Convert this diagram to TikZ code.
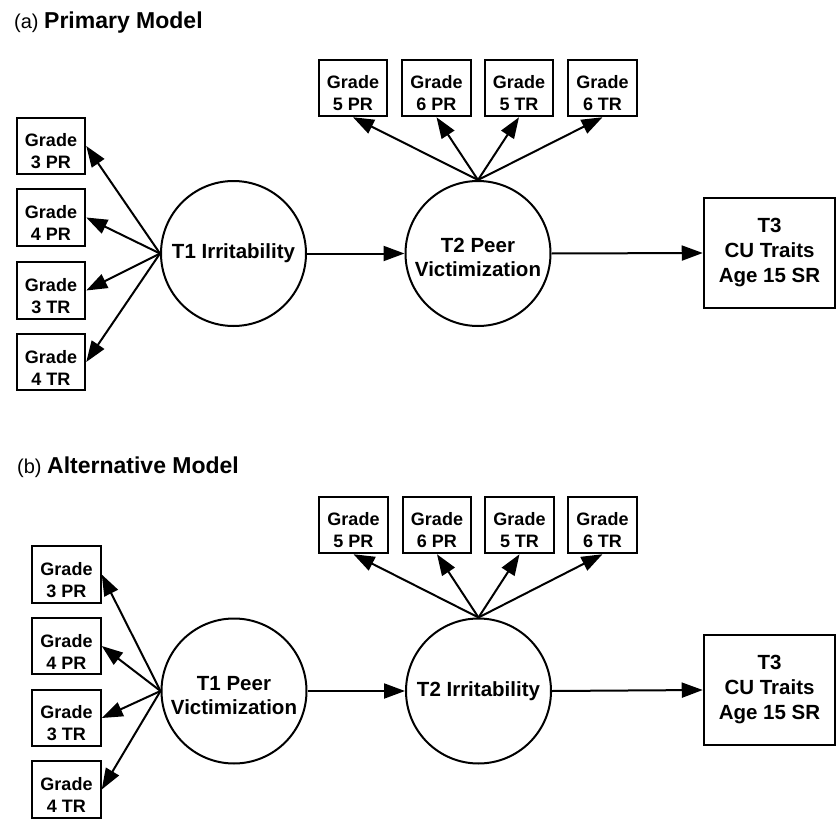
\documentclass[tikz,border=0pt]{standalone}
\usepackage{fontspec}
\setmainfont{Liberation Sans}
\usetikzlibrary{arrows.meta}
\newcommand\grbox[1]{\rule{0pt}{24pt}Grade\\#1}
\newcommand\uplift{\rule{0pt}{23pt}}
\begin{document}
\begin{tikzpicture}[x=1pt,y=-1pt,
  ind/.style={draw, line width=2pt, minimum width=68.5pt, minimum height=56.5pt, inner sep=0pt, align=center, font=\fontsize{18}{22}\selectfont\bfseries},
  lat/.style={draw, circle, line width=2pt, minimum size=145pt, inner sep=0pt, align=center, font=\fontsize{20.5}{24}\selectfont\bfseries},
  outc/.style={draw, line width=2pt, minimum width=131.5pt, minimum height=110.5pt, inner sep=0pt, align=center, font=\fontsize{20.5}{25}\selectfont\bfseries},
  arr/.style={line width=2pt, -{Triangle[length=21pt,width=15pt]}},
  ttl/.style={anchor=base west, inner sep=0pt}
]
\useasboundingbox (0,0) rectangle (839,819);

% ---------- Panel (a) ----------
\node[ttl] (ta) at (14,28) {\fontsize{20}{24}\selectfont(a) \fontsize{23}{27}\selectfont\bfseries Primary Model};

\node[ind] (a3pr) at (51,146)   {\grbox{3 PR}};
\node[ind] (a4pr) at (51,217.5) {\grbox{4 PR}};
\node[ind] (a3tr) at (51,290.5) {\grbox{3 TR}};
\node[ind] (a4tr) at (51,362)   {\grbox{4 TR}};

\node[ind] (a5pr) at (353,88)   {\grbox{5 PR}};
\node[ind] (a6pr) at (436.5,88) {\grbox{6 PR}};
\node[ind] (a5tr) at (519,88)   {\grbox{5 TR}};
\node[ind] (a6tr) at (602.5,88) {\grbox{6 TR}};

\node[lat] (aT1) at (233.5,253.5) {T1 Irritability};
\node[lat] (aT2) at (478,253.5) {\uplift T2 Peer\\Victimization};
\node[outc] (aT3) at (769.5,253) {T3\\CU Traits\\Age 15 SR};

\foreach \b in {a3pr,a4pr,a3tr,a4tr} \draw[arr] (aT1.west) -- (\b.east);
\foreach \b in {a5pr,a6pr,a5tr,a6tr} \draw[arr] (aT2.north) -- (\b.south);
\draw[arr] (aT1.east) -- (aT2.west);
\draw[arr] (aT2.east) -- (aT3.west);

% ---------- Panel (b) ----------
\node[ttl] (tb) at (17,473) {\fontsize{20}{24}\selectfont(b) \fontsize{23}{27}\selectfont\bfseries Alternative Model};

\node[ind] (b3pr) at (66.5,574.5) {\grbox{3 PR}};
\node[ind] (b4pr) at (66.5,646)   {\grbox{4 PR}};
\node[ind] (b3tr) at (66.5,718)   {\grbox{3 TR}};
\node[ind] (b4tr) at (66.5,789.5) {\grbox{4 TR}};

\node[ind] (b5pr) at (353.5,525) {\grbox{5 PR}};
\node[ind] (b6pr) at (437,525)   {\grbox{6 PR}};
\node[ind] (b5tr) at (519.5,525) {\grbox{5 TR}};
\node[ind] (b6tr) at (602.5,525) {\grbox{6 TR}};

\node[lat] (bT1) at (234,691) {\uplift T1 Peer\\Victimization};
\node[lat] (bT2) at (478.5,691) {T2 Irritability};
\node[outc] (bT3) at (769.5,690) {T3\\CU Traits\\Age 15 SR};

\foreach \b in {b3pr,b4pr,b3tr,b4tr} \draw[arr] (bT1.west) -- (\b.east);
\foreach \b in {b5pr,b6pr,b5tr,b6tr} \draw[arr] (bT2.north) -- (\b.south);
\draw[arr] (bT1.east) -- (bT2.west);
\draw[arr] (bT2.east) -- (bT3.west);
\end{tikzpicture}
\end{document}
